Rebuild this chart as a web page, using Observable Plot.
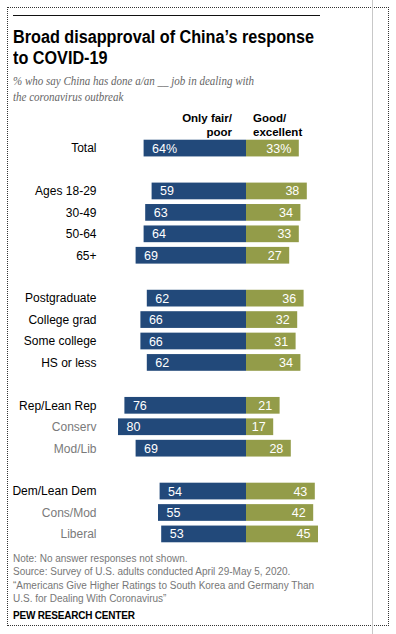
<!DOCTYPE html>
<html>
<head>
<meta charset="utf-8">
<script src="https://cdn.jsdelivr.net/npm/d3@7"></script>
<script src="https://cdn.jsdelivr.net/npm/@observablehq/plot@0.6"></script>
<style>
  html, body { margin: 0; padding: 0; background: #fff; }
  body { width: 396px; height: 634px; position: relative; overflow: hidden; font-family: "Liberation Sans", Arial, sans-serif; }
  .abs { position: absolute; }
  #frame { left: 7px; top: 7px; width: 380px; height: 617px; border: 1px dotted #333; }
  #vline { left: 372px; top: 0; width: 1px; height: 634px; background: #c8c8c8; }
  #rule { left: 13px; top: 15px; width: 307px; height: 1px; background: #111; }
  #title { left: 13px; top: 27px; font-weight: bold; font-size: 18px; line-height: 21px; color: #000; white-space: nowrap; transform: scaleX(0.9); transform-origin: 0 0; }
  #subtitle { left: 13px; top: 73px; font-family: "Liberation Serif", "DejaVu Serif", serif; font-style: italic; font-size: 12.5px; line-height: 16px; color: #666; white-space: nowrap; transform: scaleX(0.88); transform-origin: 0 0; }
  .hdr { top: 111px; font-weight: bold; font-size: 11.5px; line-height: 14px; color: #000; }
  #hdrL { right: 164px; text-align: right; }
  #hdrR { left: 253px; text-align: left; }
  #chart { left: 0; top: 100px; }
  #notes { left: 13px; top: 552px; font-size: 10px; line-height: 13.3px; color: #777; white-space: nowrap; }
  #pew { left: 13px; top: 610px; font-size: 10px; font-weight: bold; color: #000; letter-spacing: -0.2px; }
</style>
</head>
<body>
<div id="frame" class="abs"></div>
<div id="vline" class="abs"></div>
<div id="rule" class="abs"></div>
<div id="title" class="abs">Broad disapproval of China’s response<br>to COVID-19</div>
<div id="subtitle" class="abs">% who say China has done a/an __ job in dealing with<br>the coronavirus outbreak</div>
<div id="hdrL" class="abs hdr">Only fair/<br>poor</div>
<div id="hdrR" class="abs hdr">Good/<br>excellent</div>
<div id="chart" class="abs"></div>
<div id="notes" class="abs">Note: No answer responses not shown.<br>Source: Survey of U.S. adults conducted April 29-May 5, 2020.<br>“Americans Give Higher Ratings to South Korea and Germany Than<br>U.S. for Dealing With Coronavirus”</div>
<div id="pew" class="abs">PEW RESEARCH CENTER</div>
<script>
const categories = ["Total", "Ages 18-29", "30-49", "50-64", "65+",
  "Postgraduate", "College grad", "Some college", "HS or less",
  "Rep/Lean Rep", "Conserv", "Mod/Lib",
  "Dem/Lean Dem", "Cons/Mod", "Liberal"];
const fairPoor      = [64, 59, 63, 64, 69, 62, 66, 66, 62, 76, 80, 69, 54, 55, 53];
const goodExcellent = [33, 38, 34, 33, 27, 36, 32, 31, 34, 21, 17, 28, 43, 42, 45];
const groupStarts = ["Ages 18-29", "Postgraduate", "Rep/Lean Rep", "Dem/Lean Dem"];
const subgroups = ["Conserv", "Mod/Lib", "Cons/Mod", "Liberal"];

const rows = categories.map((c, i) => ({
  cat: c, fp: fairPoor[i], ge: goodExcellent[i], first: i === 0, sub: subgroups.includes(c)
}));

// y domain with blank spacer rows between groups
const domain = [];
categories.forEach((c, i) => {
  if (groupStarts.includes(c)) domain.push("gap" + i);
  domain.push(c);
});

const BLUE = "#22497a";
const GREEN = "#939c49";
const fmt = (v, first) => first ? v + "%" : String(v);

const chart = Plot.plot({
  width: 396,
  height: 447,
  marginLeft: 118,
  marginRight: 70,
  marginTop: 35,
  marginBottom: 0,
  style: { fontFamily: "'Liberation Sans', Arial, sans-serif", background: "transparent" },
  x: { domain: [-80, 50], axis: null },
  y: { domain, padding: 0.22, round: false, axis: null },
  marks: [
    Plot.barX(rows, { y: "cat", x1: d => -d.fp, x2: 0, fill: BLUE }),
    Plot.barX(rows, { y: "cat", x1: 0, x2: "ge", fill: GREEN }),
    Plot.text(rows, { y: "cat", x: d => -d.fp, text: d => fmt(d.fp, d.first), textAnchor: "start", dx: 8, fill: "white", fontSize: 12.5 }),
    Plot.text(rows, { y: "cat", x: "ge", text: d => fmt(d.ge, d.first), textAnchor: "end", dx: -8, fill: "white", fontSize: 12.5 }),
    Plot.text(rows, { y: "cat", frameAnchor: "left", text: "cat", textAnchor: "end", dx: -22, fontSize: 12, fill: d => d.sub ? "#7a7a7a" : "#000" })
  ]
});
document.getElementById("chart").appendChild(chart);
</script>
</body>
</html>
